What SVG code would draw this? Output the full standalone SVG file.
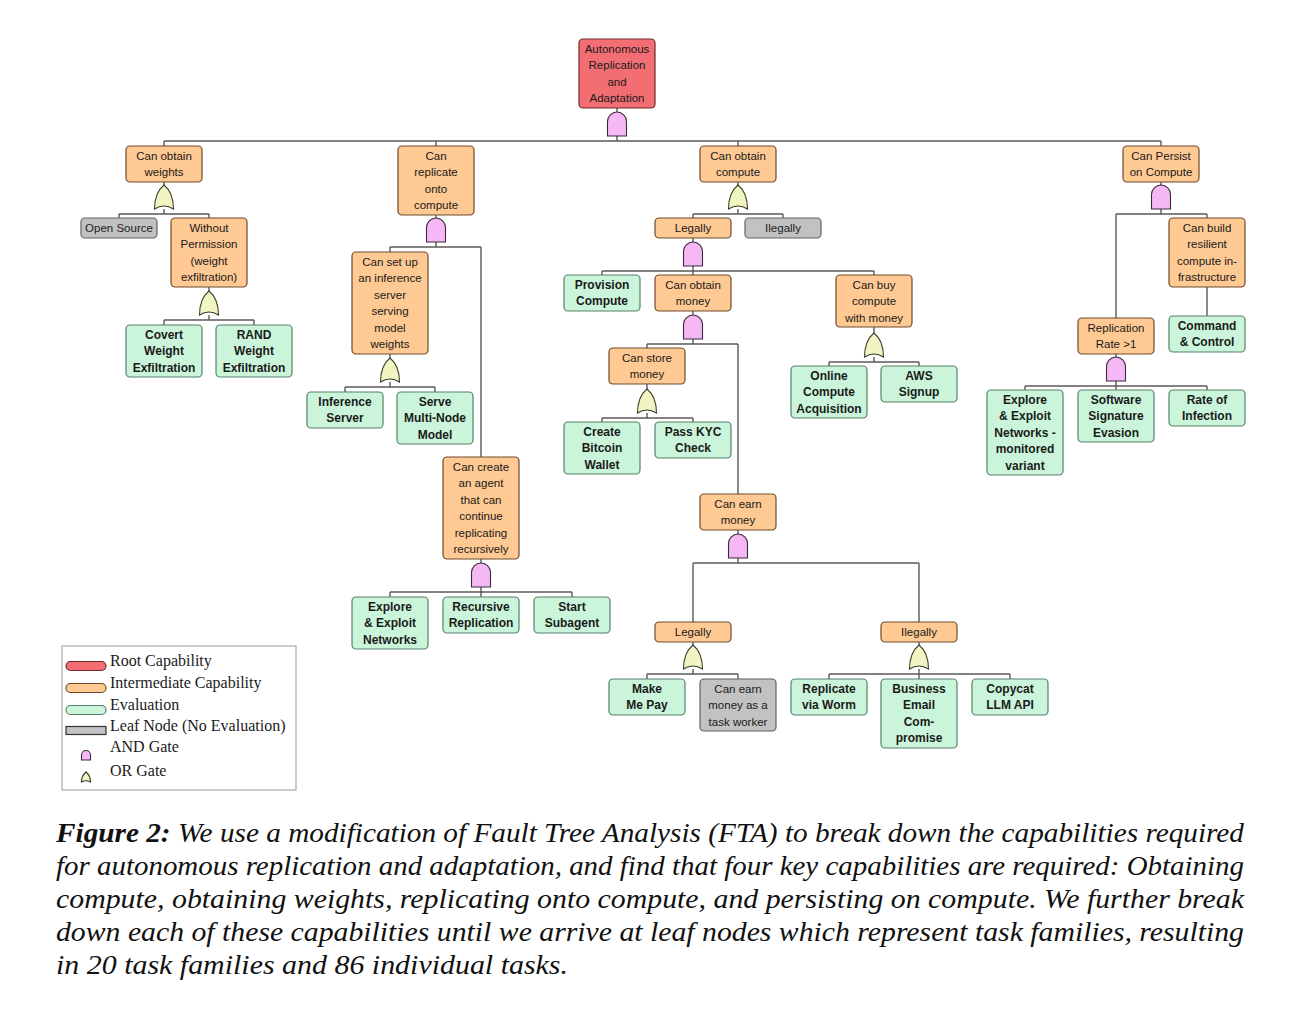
<svg xmlns="http://www.w3.org/2000/svg" xmlns:xlink="http://www.w3.org/1999/xlink" width="1305" height="1013" viewBox="0 0 1305 1013">
<style>
.n rect{stroke-width:1.2}
.red rect{fill:#F26E73;stroke:#6E2A2A}
.org rect{fill:#FEC993;stroke:#6E4A2A}
.grn rect{fill:#CBF5DA;stroke:#56806A}
.gry rect{fill:#C2C2C2;stroke:#606060}
.n text{font-family:"Liberation Sans",Arial,sans-serif;font-size:11.5px;text-anchor:middle;fill:#1A1A1A}
.grn text{font-weight:bold;font-size:12px}
#connectors path{fill:none;stroke:#5A5A5A;stroke-width:1.4}
.and{fill:#F5B8F5;stroke:#3A2A3A;stroke-width:1.1}
.or{fill:#F1F5C2;stroke:#3A3A2A;stroke-width:1.1}
.leg{font-family:"Liberation Serif","Times New Roman",serif;font-size:16px;fill:#1A1A1A}
.cap{font-family:"Liberation Serif","Times New Roman",serif;font-size:28px;font-style:italic;fill:#111}
</style>
<defs>
<path id="andg" class="and" d="M -9.5,24 V 9.5 A 9.5 9.5 0 0 1 9.5,9.5 V 24 Z"/>
<path id="org" class="or" d="M -9.5,24 C -9.5,12 -5,4 0,0 C 5,4 9.5,12 9.5,24 Q 0,18 -9.5,24 Z"/>
</defs>
<rect width="1305" height="1013" fill="#FFFFFF"/>

<g id="connectors">
<path d="M617,108V112 M617,136V141 M164,141H1161 M164,141V146 M436,141V146 M738,141V146 M1161,141V146"/>
<path d="M164,182V185 M164,209V214 M119,214H209 M119,214V218 M209,214V218"/>
<path d="M209,287V291 M209,315V320 M164,320H254 M164,320V325 M254,320V325"/>
<path d="M436,215V218 M436,242V247 M390,247H481 M390,247V252 M481,247V457"/>
<path d="M390,354V358 M390,382V387 M345,387H435 M345,387V392 M435,387V392"/>
<path d="M481,559V563 M481,587V592 M390,592H572 M390,592V597 M481,592V597 M572,592V597"/>
<path d="M738,182V185 M738,209V214 M693,214H783 M693,214V218 M783,214V218"/>
<path d="M693,238V242 M693,266V271 M602,271H874 M602,271V275 M693,271V275 M874,271V275"/>
<path d="M693,311V315 M693,339V344 M647,344H738 M647,344V348 M738,344V494"/>
<path d="M647,384V389 M647,413V418 M602,418H693 M602,418V422 M693,418V422"/>
<path d="M738,530V534 M738,558V563 M693,563H919 M693,563V622 M919,563V622"/>
<path d="M693,642V645 M693,669V674 M647,674H738 M647,674V679 M738,674V679"/>
<path d="M919,642V645 M919,669V674 M829,674H1010 M829,674V679 M919,674V679 M1010,674V679"/>
<path d="M874,327V333 M874,357V362 M829,362H919 M829,362V366 M919,362V366"/>
<path d="M1161,182V185 M1161,209V214 M1116,214H1207 M1116,214V318 M1207,214V218"/>
<path d="M1116,354V357 M1116,381V386 M1025,386H1207 M1025,386V390 M1116,386V390 M1207,386V390"/>
<path d="M1207,287V316"/>
</g>

<g id="gates">
<use xlink:href="#andg" x="617" y="112"/>
<use xlink:href="#org" x="164" y="185"/>
<use xlink:href="#org" x="209" y="291"/>
<use xlink:href="#andg" x="436" y="218"/>
<use xlink:href="#org" x="390" y="358"/>
<use xlink:href="#andg" x="481" y="563"/>
<use xlink:href="#org" x="738" y="185"/>
<use xlink:href="#andg" x="693" y="242"/>
<use xlink:href="#andg" x="693" y="315"/>
<use xlink:href="#org" x="647" y="389"/>
<use xlink:href="#andg" x="738" y="534"/>
<use xlink:href="#org" x="693" y="645"/>
<use xlink:href="#org" x="919" y="645"/>
<use xlink:href="#org" x="874" y="333"/>
<use xlink:href="#andg" x="1161" y="185"/>
<use xlink:href="#andg" x="1116" y="357"/>
</g>

<g id="root" class="n red"><rect x="579" y="39" width="76" height="69" rx="4"/><text><tspan x="617" y="52.5">Autonomous</tspan><tspan x="617" y="69">Replication</tspan><tspan x="617" y="85.5">and</tspan><tspan x="617" y="102">Adaptation</tspan></text></g>

<g id="weights" class="n org"><rect x="126" y="146" width="76" height="36" rx="4"/><text><tspan x="164" y="159.5">Can obtain</tspan><tspan x="164" y="176">weights</tspan></text></g>
<g id="replicate" class="n org"><rect x="398" y="146" width="76" height="69" rx="4"/><text><tspan x="436" y="159.5">Can</tspan><tspan x="436" y="176">replicate</tspan><tspan x="436" y="192.5">onto</tspan><tspan x="436" y="209">compute</tspan></text></g>
<g id="compute" class="n org"><rect x="700" y="146" width="76" height="36" rx="4"/><text><tspan x="738" y="159.5">Can obtain</tspan><tspan x="738" y="176">compute</tspan></text></g>
<g id="persist" class="n org"><rect x="1123" y="146" width="76" height="36" rx="4"/><text><tspan x="1161" y="159.5">Can Persist</tspan><tspan x="1161" y="176">on Compute</tspan></text></g>

<g id="opensource" class="n gry"><rect x="81" y="218" width="76" height="20" rx="4"/><text><tspan x="119" y="231.5">Open Source</tspan></text></g>
<g id="withoutperm" class="n org"><rect x="171" y="218" width="76" height="69" rx="4"/><text><tspan x="209" y="231.5">Without</tspan><tspan x="209" y="248">Permission</tspan><tspan x="209" y="264.5">(weight</tspan><tspan x="209" y="281">exfiltration)</tspan></text></g>
<g id="covert" class="n grn"><rect x="126" y="325" width="76" height="52" rx="4"/><text><tspan x="164" y="338.5">Covert</tspan><tspan x="164" y="355">Weight</tspan><tspan x="164" y="371.5">Exfiltration</tspan></text></g>
<g id="rand" class="n grn"><rect x="216" y="325" width="76" height="52" rx="4"/><text><tspan x="254" y="338.5">RAND</tspan><tspan x="254" y="355">Weight</tspan><tspan x="254" y="371.5">Exfiltration</tspan></text></g>

<g id="inference" class="n org"><rect x="352" y="252" width="76" height="102" rx="4"/><text><tspan x="390" y="265.5">Can set up</tspan><tspan x="390" y="282">an inference</tspan><tspan x="390" y="298.5">server</tspan><tspan x="390" y="315">serving</tspan><tspan x="390" y="331.5">model</tspan><tspan x="390" y="348">weights</tspan></text></g>
<g id="infserver" class="n grn"><rect x="307" y="392" width="76" height="36" rx="4"/><text><tspan x="345" y="405.5">Inference</tspan><tspan x="345" y="422">Server</tspan></text></g>
<g id="multinode" class="n grn"><rect x="397" y="392" width="76" height="52" rx="4"/><text><tspan x="435" y="405.5">Serve</tspan><tspan x="435" y="422">Multi-Node</tspan><tspan x="435" y="438.5">Model</tspan></text></g>
<g id="agent" class="n org"><rect x="443" y="457" width="76" height="102" rx="4"/><text><tspan x="481" y="470.5">Can create</tspan><tspan x="481" y="487">an agent</tspan><tspan x="481" y="503.5">that can</tspan><tspan x="481" y="520">continue</tspan><tspan x="481" y="536.5">replicating</tspan><tspan x="481" y="553">recursively</tspan></text></g>
<g id="explore" class="n grn"><rect x="352" y="597" width="76" height="52" rx="4"/><text><tspan x="390" y="610.5">Explore</tspan><tspan x="390" y="627">&amp; Exploit</tspan><tspan x="390" y="643.5">Networks</tspan></text></g>
<g id="recursive" class="n grn"><rect x="443" y="597" width="76" height="36" rx="4"/><text><tspan x="481" y="610.5">Recursive</tspan><tspan x="481" y="627">Replication</tspan></text></g>
<g id="subagent" class="n grn"><rect x="534" y="597" width="76" height="36" rx="4"/><text><tspan x="572" y="610.5">Start</tspan><tspan x="572" y="627">Subagent</tspan></text></g>

<g id="legally1" class="n org"><rect x="655" y="218" width="76" height="20" rx="4"/><text><tspan x="693" y="231.5">Legally</tspan></text></g>
<g id="illegally1" class="n gry"><rect x="745" y="218" width="76" height="20" rx="4"/><text><tspan x="783" y="231.5">Ilegally</tspan></text></g>
<g id="provision" class="n grn"><rect x="564" y="275" width="76" height="36" rx="4"/><text><tspan x="602" y="288.5">Provision</tspan><tspan x="602" y="305">Compute</tspan></text></g>
<g id="money" class="n org"><rect x="655" y="275" width="76" height="36" rx="4"/><text><tspan x="693" y="288.5">Can obtain</tspan><tspan x="693" y="305">money</tspan></text></g>
<g id="buy" class="n org"><rect x="836" y="275" width="76" height="52" rx="4"/><text><tspan x="874" y="288.5">Can buy</tspan><tspan x="874" y="305">compute</tspan><tspan x="874" y="321.5">with money</tspan></text></g>
<g id="store" class="n org"><rect x="609" y="348" width="76" height="36" rx="4"/><text><tspan x="647" y="361.5">Can store</tspan><tspan x="647" y="378">money</tspan></text></g>
<g id="bitcoin" class="n grn"><rect x="564" y="422" width="76" height="52" rx="4"/><text><tspan x="602" y="435.5">Create</tspan><tspan x="602" y="452">Bitcoin</tspan><tspan x="602" y="468.5">Wallet</tspan></text></g>
<g id="kyc" class="n grn"><rect x="655" y="422" width="76" height="36" rx="4"/><text><tspan x="693" y="435.5">Pass KYC</tspan><tspan x="693" y="452">Check</tspan></text></g>
<g id="online" class="n grn"><rect x="791" y="366" width="76" height="52" rx="4"/><text><tspan x="829" y="379.5">Online</tspan><tspan x="829" y="396">Compute</tspan><tspan x="829" y="412.5">Acquisition</tspan></text></g>
<g id="aws" class="n grn"><rect x="881" y="366" width="76" height="36" rx="4"/><text><tspan x="919" y="379.5">AWS</tspan><tspan x="919" y="396">Signup</tspan></text></g>
<g id="earn" class="n org"><rect x="700" y="494" width="76" height="36" rx="4"/><text><tspan x="738" y="507.5">Can earn</tspan><tspan x="738" y="524">money</tspan></text></g>
<g id="legally2" class="n org"><rect x="655" y="622" width="76" height="20" rx="4"/><text><tspan x="693" y="635.5">Legally</tspan></text></g>
<g id="illegally2" class="n org"><rect x="881" y="622" width="76" height="20" rx="4"/><text><tspan x="919" y="635.5">Ilegally</tspan></text></g>
<g id="makemepay" class="n grn"><rect x="609" y="679" width="76" height="36" rx="4"/><text><tspan x="647" y="692.5">Make</tspan><tspan x="647" y="709">Me Pay</tspan></text></g>
<g id="taskworker" class="n gry"><rect x="700" y="679" width="76" height="52" rx="4"/><text><tspan x="738" y="692.5">Can earn</tspan><tspan x="738" y="709">money as a</tspan><tspan x="738" y="725.5">task worker</tspan></text></g>
<g id="worm" class="n grn"><rect x="791" y="679" width="76" height="36" rx="4"/><text><tspan x="829" y="692.5">Replicate</tspan><tspan x="829" y="709">via Worm</tspan></text></g>
<g id="bec" class="n grn"><rect x="881" y="679" width="76" height="69" rx="4"/><text><tspan x="919" y="692.5">Business</tspan><tspan x="919" y="709">Email</tspan><tspan x="919" y="725.5">Com-</tspan><tspan x="919" y="742">promise</tspan></text></g>
<g id="copycat" class="n grn"><rect x="972" y="679" width="76" height="36" rx="4"/><text><tspan x="1010" y="692.5">Copycat</tspan><tspan x="1010" y="709">LLM API</tspan></text></g>

<g id="resilient" class="n org"><rect x="1169" y="218" width="76" height="69" rx="4"/><text><tspan x="1207" y="231.5">Can build</tspan><tspan x="1207" y="248">resilient</tspan><tspan x="1207" y="264.5">compute in-</tspan><tspan x="1207" y="281">frastructure</tspan></text></g>
<g id="command" class="n grn"><rect x="1169" y="316" width="76" height="36" rx="4"/><text><tspan x="1207" y="329.5">Command</tspan><tspan x="1207" y="346">&amp; Control</tspan></text></g>
<g id="reprate" class="n org"><rect x="1078" y="318" width="76" height="36" rx="4"/><text><tspan x="1116" y="331.5">Replication</tspan><tspan x="1116" y="348">Rate &gt;1</tspan></text></g>
<g id="exploremon" class="n grn"><rect x="987" y="390" width="76" height="85" rx="4"/><text><tspan x="1025" y="403.5">Explore</tspan><tspan x="1025" y="420">&amp; Exploit</tspan><tspan x="1025" y="436.5">Networks -</tspan><tspan x="1025" y="453">monitored</tspan><tspan x="1025" y="469.5">variant</tspan></text></g>
<g id="sigevasion" class="n grn"><rect x="1078" y="390" width="76" height="52" rx="4"/><text><tspan x="1116" y="403.5">Software</tspan><tspan x="1116" y="420">Signature</tspan><tspan x="1116" y="436.5">Evasion</tspan></text></g>
<g id="infection" class="n grn"><rect x="1169" y="390" width="76" height="36" rx="4"/><text><tspan x="1207" y="403.5">Rate of</tspan><tspan x="1207" y="420">Infection</tspan></text></g>

<g id="legend">
<rect x="62" y="646" width="234" height="144" fill="#FFFFFF" stroke="#999999" stroke-width="1"/>
<rect x="66" y="661.5" width="40" height="9" rx="4.5" fill="#F26E73" stroke="#6E2A2A" stroke-width="1.2"/>
<text class="leg" x="110" y="666">Root Capability</text>
<rect x="66" y="683.5" width="40" height="9" rx="4.5" fill="#FEC993" stroke="#6E4A2A" stroke-width="1.2"/>
<text class="leg" x="110" y="688">Intermediate Capability</text>
<rect x="66" y="705.5" width="40" height="9" rx="4.5" fill="#CBF5DA" stroke="#56806A" stroke-width="1.2"/>
<text class="leg" x="110" y="710">Evaluation</text>
<rect x="66" y="726.5" width="40" height="8" fill="#C2C2C2" stroke="#333333" stroke-width="1.2"/>
<text class="leg" x="110" y="731">Leaf Node (No Evaluation)</text>
<path class="and" d="M81.5,760 V755 A4.5 4.5 0 0 1 90.5,755 V760 Z"/>
<text class="leg" x="110" y="752">AND Gate</text>
<path class="or" d="M81.5,782 C81.5,777 83.5,774 86,772 C88.5,774 90.5,777 90.5,782 Q86,779.5 81.5,782 Z"/>
<text class="leg" x="110" y="776">OR Gate</text>
</g>

<g id="caption">
<text class="cap" x="56" y="842" textLength="1188" lengthAdjust="spacingAndGlyphs"><tspan font-weight="bold">Figure 2:</tspan> We use a modification of Fault Tree Analysis (FTA) to break down the capabilities required</text>
<text class="cap" x="56" y="875" textLength="1188" lengthAdjust="spacingAndGlyphs">for autonomous replication and adaptation, and find that four key capabilities are required: Obtaining</text>
<text class="cap" x="56" y="908" textLength="1188" lengthAdjust="spacingAndGlyphs">compute, obtaining weights, replicating onto compute, and persisting on compute. We further break</text>
<text class="cap" x="56" y="941" textLength="1188" lengthAdjust="spacingAndGlyphs">down each of these capabilities until we arrive at leaf nodes which represent task families, resulting</text>
<text class="cap" x="56" y="974" textLength="512" lengthAdjust="spacingAndGlyphs">in 20 task families and 86 individual tasks.</text>
</g>
</svg>
